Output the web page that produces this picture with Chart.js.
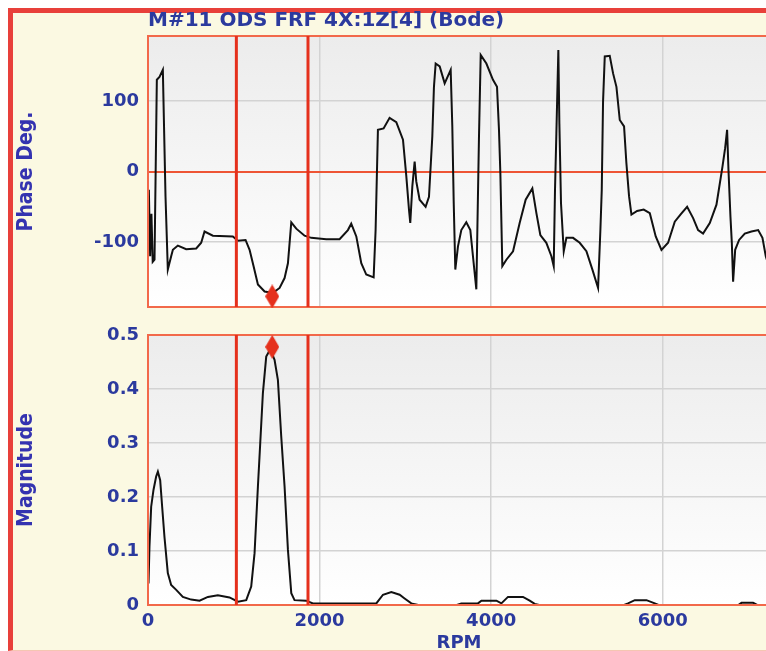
<!DOCTYPE html>
<html>
<head>
<meta charset="utf-8">
<script src="https://cdn.jsdelivr.net/npm/chart.js@4/dist/chart.umd.min.js"></script>
<style>
    html, body { margin: 0; background: #fff; overflow: hidden; width: 766px; height: 651px; }
    #frame {
        position: absolute; left: 8px; top: 8px; width: 770px; height: 637px;
        background: #fbf9e2;
        border-left: 5px solid #e8403a; border-top: 5px solid #e8403a;
        border-bottom: 1px solid #f5c6b2;
    }
    canvas { position: absolute; left: 0; }
    #phase { top: 0; }
    #mag { top: 320px; }
</style>
</head>
<body>
<div id="frame"></div>
<canvas id="phase" width="778" height="320"></canvas>
<canvas id="mag" width="778" height="345"></canvas>
<script>
const rpmTicks = [0, 2000, 4000, 6000];
const phaseTicks = [-100, 0, 100];
const magTicks = [0, 0.1, 0.2, 0.3, 0.4, 0.5];

const phaseRpm = [
    10, 25, 40, 55, 76, 103, 134, 173, 204, 231, 270, 290, 348, 445, 562, 620, 659, 756, 989, 1048,
    1137, 1184, 1230, 1281, 1359, 1456, 1534, 1592, 1631, 1670, 1728, 1825, 1903, 2078, 2233, 2330, 2369, 2428, 2486, 2544,
    2630, 2653, 2680, 2746, 2816, 2894, 2972, 3011, 3042, 3057, 3081, 3108, 3127, 3166, 3236, 3275, 3314, 3333, 3353, 3400,
    3458, 3528, 3547, 3563, 3582, 3613, 3652, 3710, 3757, 3796, 3827, 3839, 3858, 3878, 3944, 4021, 4068, 4091, 4107, 4130,
    4177, 4255, 4332, 4402, 4480, 4527, 4573, 4643, 4702, 4729, 4744, 4760, 4783, 4795, 4814, 4846, 4877, 4954, 5032, 5110,
    5180, 5246, 5273, 5289, 5304, 5324, 5382, 5421, 5460, 5499, 5549, 5576, 5607, 5635, 5701, 5778, 5849, 5918, 5985, 6062,
    6140, 6206, 6284, 6354, 6412, 6470, 6548, 6626, 6696, 6727, 6750, 6766, 6789, 6805, 6820, 6844, 6890, 6956, 7034, 7112,
    7162, 7201, 7250,
];
const phaseDeg = [
    -26, -120, -60, -128, -125, 130, 134, 144, -35, -139, -120, -111, -105, -110, -109, -101, -85, -91, -92, -98,
    -97, -111, -134, -160, -170, -172, -165, -151, -130, -72, -81, -91, -94, -96, -96, -83, -74, -92, -130, -146,
    -150, -83, 59, 61, 76, 70, 45, -7, -54, -73, -21, 14, -14, -40, -50, -36, 50, 120, 153, 149,
    125, 144, 64, -42, -139, -106, -83, -72, -83, -130, -167, -83, 50, 165, 153, 130, 120, 59, -2, -134,
    -125, -113, -73, -40, -24, -59, -90, -101, -120, -134, -26, 54, 172, 68, -45, -113, -94, -94, -101, -113,
    -139, -165, -83, -26, 99, 163, 164, 139, 120, 73, 64, 12, -35, -61, -56, -54, -59, -92, -111, -101,
    -71, -61, -50, -66, -83, -88, -73, -47, 7, 33, 59, 2, -64, -101, -156, -111, -97, -88, -85, -83,
    -94, -120, -140,
];

const magRpm = [
    6, 17, 37, 64, 95, 115, 142, 165, 192, 231, 270, 329, 406, 503, 601, 698, 814, 950, 1048, 1145,
    1203, 1242, 1281, 1308, 1339, 1378, 1409, 1436, 1475, 1514, 1553, 1592, 1631, 1670, 1708, 1844, 1922, 2661, 2739, 2836,
    2933, 2991, 3069, 3150, 3600, 3652, 3846, 3886, 4061, 4119, 4196, 4371, 4449, 4507, 4560, 5550, 5595, 5674, 5810, 5907,
    5950, 6880, 6918, 7053, 7100, 7250,
];
const magValues = [
    0.040, 0.108, 0.182, 0.213, 0.238, 0.247, 0.231, 0.182, 0.126, 0.059, 0.037, 0.028, 0.015, 0.010, 0.008, 0.015, 0.018, 0.014, 0.006, 0.009,
    0.034, 0.096, 0.219, 0.299, 0.392, 0.460, 0.469, 0.469, 0.454, 0.417, 0.312, 0.219, 0.102, 0.022, 0.009, 0.008, 0.003, 0.003, 0.019, 0.024,
    0.019, 0.012, 0.003, 0, 0, 0.003, 0.003, 0.008, 0.008, 0.003, 0.015, 0.015, 0.008, 0.002, 0, 0, 0.003, 0.009, 0.009, 0.003,
    0, 0, 0.004, 0.004, 0, 0,
];

const cursors = [1030, 1865];
const markerRpm = 1448;
const markerPhase = -177;
const markerMag = 0.478;

// ---------------------------------------------------------->

const blue = '#2b3a9e';
const red = '#e5301c';
const rpmMax = 7250;

const diamond = document.createElement('canvas');
diamond.width = 14;
diamond.height = 24;
const dctx = diamond.getContext('2d');
dctx.fillStyle = red;
dctx.beginPath();
dctx.moveTo(7, 0);
dctx.lineTo(14, 12);
dctx.lineTo(7, 24);
dctx.lineTo(0, 12);
dctx.closePath();
dctx.fill();

const plotDecor = {
    id: 'plotDecor',
    beforeDraw: chart => {
        const { ctx, chartArea: a } = chart;
        const g = ctx.createLinearGradient(0, a.top, 0, a.bottom);
        g.addColorStop(0, '#ececec');
        g.addColorStop(1, '#ffffff');
        ctx.save();
        ctx.fillStyle = g;
        ctx.fillRect(a.left, a.top, a.right - a.left, a.bottom - a.top);
        ctx.restore();
    },
    // box round the plot goes over the curve, under cursors and marker
    afterDatasetDraw: (chart, args) => {
        if (args.index !== 0) return;
        const { ctx, chartArea: a } = chart;
        ctx.save();
        ctx.strokeStyle = '#f2694a';
        ctx.lineWidth = 2;
        ctx.strokeRect(a.left, a.top, a.right - a.left, a.bottom - a.top);
        ctx.restore();
    },
};

const tickFont = { family: 'DejaVu Sans', size: 18, weight: 'bold' };
const axisTitleFont = { family: 'DejaVu Sans Condensed', size: 21, weight: 'bold' };

const noScalePadding = scale => {
    scale.paddingTop = 0;
    scale.paddingBottom = 0;
    scale.paddingLeft = 0;
    scale.paddingRight = 0;
};

const bodePanel = (canvas, curveX, curveY, yMin, yMax, yTicks, marker, opts) =>
    new Chart(canvas, {
        type: 'line',
        data: {
            datasets: [
                {
                    data: curveX.map((x, i) => ({ x, y: curveY[i] })),
                    borderColor: '#111',
                    borderWidth: 2,
                    pointRadius: 0,
                    tension: 0,
                    order: 3,
                },
                ...cursors.map(c => ({
                    data: [{ x: c, y: yMin }, { x: c, y: yMax }],
                    borderColor: red,
                    borderWidth: 3,
                    pointRadius: 0,
                    order: 2,
                })),
                {
                    data: [{ x: markerRpm, y: marker }],
                    showLine: false,
                    pointStyle: diamond,
                    pointRadius: 7,
                    clip: false,
                    order: 1,
                },
            ],
        },
        options: {
            responsive: false,
            animation: false,
            events: [],
            layout: { padding: opts.padding },
            plugins: {
                legend: { display: false },
                tooltip: { enabled: false },
                title: opts.title,
            },
            scales: {
                x: {
                    type: 'linear',
                    min: 0,
                    max: rpmMax,
                    afterBuildTicks: scale => {
                        scale.ticks = rpmTicks.map(value => ({ value }));
                    },
                    afterFit: scale => {
                        if (opts.xHeight) scale.height = opts.xHeight;
                        noScalePadding(scale);
                    },
                    grid: { color: '#d3d3d3', lineWidth: 1.5, drawTicks: false },
                    border: { display: false },
                    ticks: {
                        display: opts.xLabels,
                        font: tickFont,
                        color: blue,
                        padding: 6,
                        maxRotation: 0,
                        callback: v => String(v),
                    },
                    title: {
                        display: opts.xLabels,
                        text: 'RPM',
                        font: tickFont,
                        color: blue,
                        padding: { top: 0, bottom: 11 },
                    },
                },
                y: {
                    min: yMin,
                    max: yMax,
                    afterBuildTicks: scale => {
                        scale.ticks = yTicks.map(value => ({ value }));
                    },
                    afterFit: scale => {
                        scale.width = 148;
                        noScalePadding(scale);
                    },
                    grid: {
                        color: c => (opts.zeroLine && c.tick && c.tick.value === 0 ? '#ee5535' : '#d3d3d3'),
                        lineWidth: c => (opts.zeroLine && c.tick && c.tick.value === 0 ? 2 : 1.5),
                        drawTicks: false,
                    },
                    border: { display: false },
                    ticks: {
                        font: tickFont,
                        color: blue,
                        padding: 9,
                        callback: opts.yFormat,
                    },
                    title: {
                        display: true,
                        text: opts.yTitle,
                        font: axisTitleFont,
                        color: '#3433b0',
                        padding: { top: 14, bottom: 0 },
                    },
                },
            },
        },
        plugins: [plotDecor],
    });

bodePanel(document.getElementById('phase'), phaseRpm, phaseDeg, -192, 192, phaseTicks, markerPhase, {
    padding: { top: 0, bottom: 13, left: 0, right: 0 },
    title: {
        display: true,
        text: 'M#11 ODS FRF 4X:1Z[4] (Bode)',
        align: 'start',
        fullSize: false,
        color: blue,
        font: { family: 'DejaVu Sans', size: 20, weight: 'bold' },
        padding: { top: 9, bottom: 3 },
    },
    xLabels: false,
    zeroLine: true,
    yTitle: 'Phase Deg.',
    yFormat: v => String(v),
});

bodePanel(document.getElementById('mag'), magRpm, magValues, 0, 0.5, magTicks, markerMag, {
    padding: { top: 15, bottom: 0, left: 0, right: 0 },
    title: { display: false },
    xLabels: true,
    xHeight: 60,
    zeroLine: false,
    yTitle: 'Magnitude',
    yFormat: v => (v === 0 ? '0' : v.toFixed(1)),
});
</script>
</body>
</html>
